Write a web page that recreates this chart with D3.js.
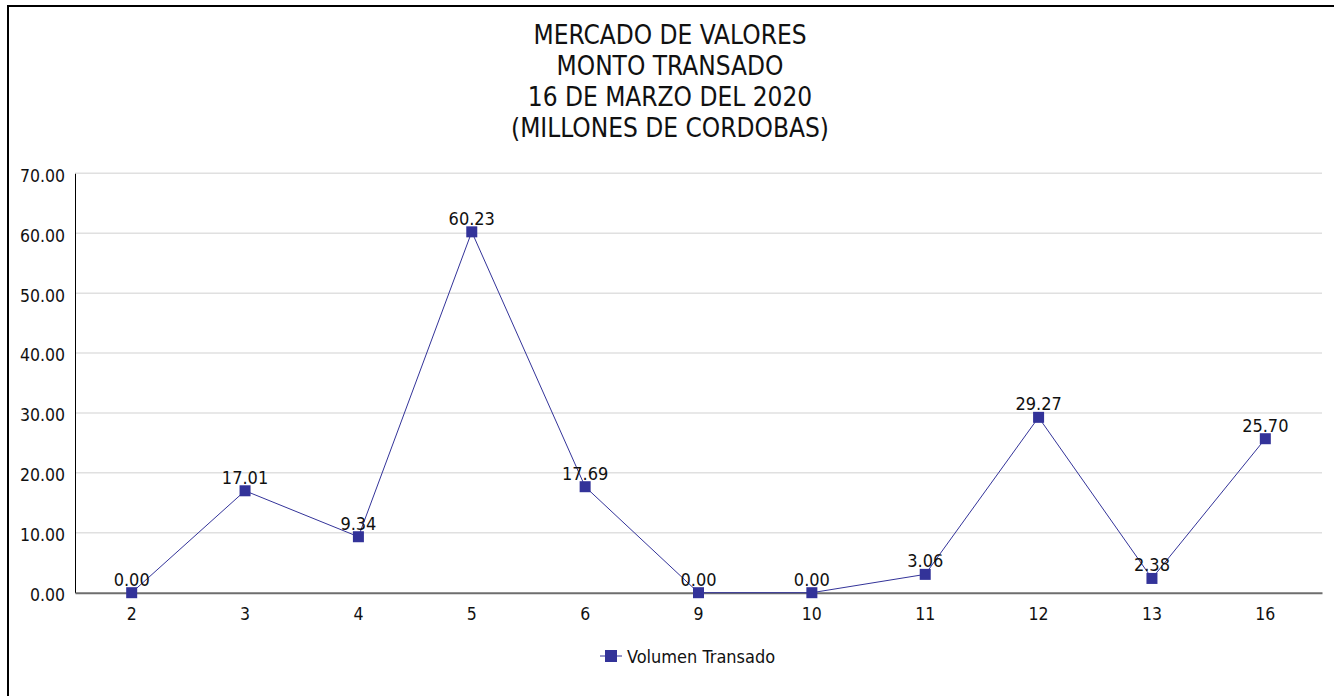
<!DOCTYPE html>
<html>
<head>
<meta charset="utf-8">
<script src="https://cdn.jsdelivr.net/npm/d3@7"></script>
<style>
  html, body { margin: 0; padding: 0; background: #fff; }
  svg { display: block; }
  text { font-family: Tahoma, "DejaVu Sans Condensed", "DejaVu Sans", sans-serif; fill: #111; }
</style>
</head>
<body>
<svg id="chart" width="1334" height="696"></svg>
<script>
const titleLines = ["MERCADO DE VALORES", "MONTO TRANSADO", "16 DE MARZO DEL 2020", "(MILLONES DE CORDOBAS)"];
const categories = ["2", "3", "4", "5", "6", "9", "10", "11", "12", "13", "16"];
const values = [0.00, 17.01, 9.34, 60.23, 17.69, 0.00, 0.00, 3.06, 29.27, 2.38, 25.70];
const yTicks = [0, 10, 20, 30, 40, 50, 60, 70];
const seriesName = "Volumen Transado";

const W = 1334, H = 696;
const margin = { left: 75, right: 12, top: 173.3, bottom: 103.3 };
const svg = d3.select("#chart");
const color = "#333399";

// outer frame (right and bottom edges lie outside the picture)
svg.append("rect").attr("x", 8).attr("y", 6).attr("width", W + 10).attr("height", H + 10)
  .attr("fill", "none").attr("stroke", "#000").attr("stroke-width", 2);

// title
const title = svg.append("text").attr("text-anchor", "middle").style("font-size", "26px");
titleLines.forEach((t, i) => {
  title.append("tspan").attr("x", 670).attr("y", 44 + i * 31).text(t);
});

const x = d3.scaleBand().domain(categories).range([margin.left, W - margin.right]).padding(0);
const y = d3.scaleLinear().domain([0, 70]).range([H - margin.bottom, margin.top]);

// gridlines
svg.append("g").selectAll("line").data(yTicks.filter(d => d > 0)).join("line")
  .attr("x1", margin.left).attr("x2", W - margin.right)
  .attr("y1", d => y(d)).attr("y2", d => y(d))
  .attr("stroke", "#e0e0e0").attr("stroke-width", 1.5);

// y axis
const yAxis = svg.append("g").attr("transform", `translate(${margin.left},0)`)
  .call(d3.axisLeft(y).tickValues(yTicks).tickFormat(d3.format(".2f")).tickSize(0).tickPadding(10));
yAxis.select(".domain").attr("stroke", "#000").attr("stroke-width", 1);
yAxis.selectAll("text").style("font-size", "17.5px").attr("dy", "0.45em");

// x axis
const xAxis = svg.append("g").attr("transform", `translate(0,${y(0)})`)
  .call(d3.axisBottom(x).tickSize(0).tickPadding(15));
xAxis.select(".domain").attr("stroke", "#6e6e6e").attr("stroke-width", 2);
xAxis.selectAll("text").style("font-size", "17.5px");

const cx = d => x(d) + x.bandwidth() / 2;
const pts = categories.map((c, i) => ({ c, v: values[i] }));

svg.append("path").datum(pts)
  .attr("fill", "none").attr("stroke", color).attr("stroke-width", 1)
  .attr("d", d3.line().x(d => cx(d.c)).y(d => y(d.v)));

svg.append("g").selectAll("rect").data(pts).join("rect")
  .attr("x", d => cx(d.c) - 5.5).attr("y", d => y(d.v) - 5.5)
  .attr("width", 11).attr("height", 11).attr("fill", color);

svg.append("g").selectAll("text").data(pts).join("text")
  .attr("x", d => cx(d.c)).attr("y", d => y(d.v) - 7)
  .attr("text-anchor", "middle").style("font-size", "18px")
  .text(d => d3.format(".2f")(d.v));

// legend
const lg = svg.append("g");
lg.append("line").attr("x1", 600).attr("x2", 622).attr("y1", 656).attr("y2", 656)
  .attr("stroke", color).attr("stroke-width", 1);
lg.append("rect").attr("x", 605).attr("y", 650).attr("width", 12).attr("height", 12).attr("fill", color);
lg.append("text").attr("x", 627).attr("y", 663).style("font-size", "18px").text(seriesName);
</script>
</body>
</html>
